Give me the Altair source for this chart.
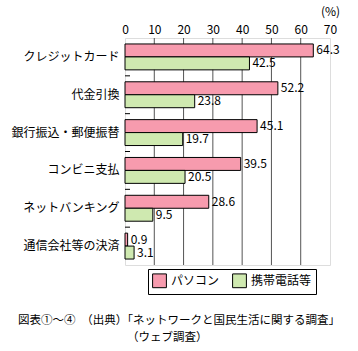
import altair as alt
import pandas as pd

categories = ["クレジットカード", "代金引換", "銀行振込・郵便振替", "コンビニ支払", "ネットバンキング", "通信会社等の決済"]
series = ["パソコン", "携帯電話等"]
pc_values = [64.3, 52.2, 45.1, 39.5, 28.6, 0.9]
mobile_values = [42.5, 23.8, 19.7, 20.5, 9.5, 3.1]
x_ticks = [0, 10, 20, 30, 40, 50, 60, 70]
colors = ["#F79BAE", "#CFE9B0"]
caption_line1 = "図表①〜④　（出典）「ネットワークと国民生活に関する調査」"
caption_line2 = "（ウェブ調査）"

rows = []
for c, p, m in zip(categories, pc_values, mobile_values):
    rows.append({"cat": c, "series": series[0], "value": p, "label": f"{p:.1f}"})
    rows.append({"cat": c, "series": series[1], "value": m, "label": f"{m:.1f}"})
df = pd.DataFrame(rows)
tick_df = pd.DataFrame({"cat": categories[1:]})
grid_df = pd.DataFrame({"value": x_ticks[1:-1]})
cap_df = pd.DataFrame({"t": [caption_line1]})
cap_df2 = pd.DataFrame({"t": [caption_line2]})

FONT = "Noto Sans CJK JP"

y_axis = alt.Axis(title=None, ticks=False, domain=False, labelFontSize=12,
                  labelColor="black", labelPadding=6, labelFont=FONT)
y_scale = alt.Scale(domain=categories, paddingInner=0, paddingOuter=0)
x_axis = alt.Axis(orient="top", values=x_ticks, tickCount=8, ticks=False, domain=False,
                  grid=False,
                  labelFontSize=12, labelColor="black", labelPadding=2,
                  labelFont=FONT, labelFlush=False, labelOverlap=False,
                  title="(%)", titleX=205, titleY=-20, titleAlign="center",
                  titleBaseline="bottom", titleFontWeight="normal",
                  titleFontSize=12, titleFont=FONT, titleColor="black")
x_scale = alt.Scale(domain=[0, 70], nice=False, zero=True)


def x_enc():
    return alt.X("value:Q", scale=x_scale, axis=x_axis)


def y_enc(**kw):
    return alt.Y("cat:N", sort=categories, scale=y_scale, axis=y_axis, **kw)


yoff = alt.YOffset("series:N", sort=series,
                   scale=alt.Scale(domain=series, paddingInner=0, paddingOuter=0.46))

grid = alt.Chart(grid_df).mark_rule(color="#555555", strokeWidth=1).encode(
    x=x_enc(),
)

bars = alt.Chart(df).mark_bar(stroke="black", strokeWidth=1, opacity=1,
                              fillOpacity=1).encode(
    x=x_enc(),
    y=y_enc(),
    yOffset=yoff,
    color=alt.Color("series:N", sort=series,
                    scale=alt.Scale(domain=series, range=colors),
                    legend=alt.Legend(title=None, orient="none", direction="horizontal",
                                      legendX=23, legendY=231,
                                      symbolType="square", symbolSize=190,
                                      symbolStrokeColor="black", symbolStrokeWidth=1,
                                      labelFontSize=12, labelFont=FONT, labelColor="black",
                                      columnPadding=10, padding=4,
                                      strokeColor="black", fillColor="white")),
)

labels = alt.Chart(df).mark_text(align="left", baseline="middle", dx=3,
                                 fontSize=12, font=FONT, color="black").encode(
    x=x_enc(),
    y=y_enc(),
    yOffset=yoff,
    text="label:N",
)

ticks = alt.Chart(tick_df).mark_rule(color="black", strokeWidth=1).encode(
    y=y_enc(bandPosition=0),
    x=alt.value(0),
    x2=alt.value(5),
)

cap1 = alt.Chart(cap_df).mark_text(align="left", baseline="middle", fontSize=11.5,
                                   font=FONT, color="black").encode(
    x=alt.value(-107), y=alt.value(283), text="t:N")
cap2 = alt.Chart(cap_df2).mark_text(align="left", baseline="middle", fontSize=11.5,
                                    font=FONT, color="black").encode(
    x=alt.value(2), y=alt.value(300), text="t:N")

chart = alt.layer(grid, bars, labels, ticks, cap1, cap2).properties(
    width=205, height=227,
    autosize=alt.AutoSizeParams(type="none"),
    padding={"left": 125, "top": 38, "right": 28, "bottom": 86},
).configure_view(stroke="black", strokeWidth=1).configure(background="white")

chart.save("out.html", embed_options={"renderer": "svg", "actions": False})
